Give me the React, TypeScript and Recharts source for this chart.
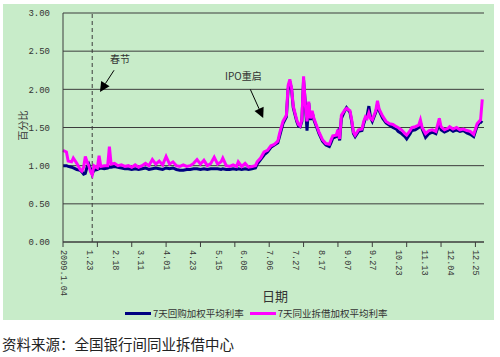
import { CartesianGrid, Line, LineChart, ReferenceLine, XAxis, YAxis } from "recharts";

// trading-day index (0 = 2009.1.04)
const DAY = [
  0, 2, 3, 5, 6, 8, 10, 11, 12, 13, 14, 15, 16, 17, 18, 20, 21, 22, 24, 26, 27, 28, 30, 32, 34, 36, 38, 40,
  42, 44, 46, 48, 50, 52, 54, 56, 58, 60, 62, 64, 66, 68, 70, 72, 74, 76, 78, 80, 82, 84, 86, 88, 90, 92,
  93, 95, 97, 99, 101, 102, 104, 106, 108, 110, 112, 113, 115, 117, 119, 121, 123, 125, 126, 128, 130, 131,
  132, 133, 134, 136, 137, 138, 139, 140, 141, 142, 143, 144, 145, 146, 147, 148, 149, 151, 153, 155, 156,
  157, 159, 160, 161, 162, 164, 165, 167, 168, 169, 170, 172, 174, 175, 176, 177, 178, 179, 180, 182, 183,
  184, 186, 188, 190, 192, 194, 195, 197, 199, 200, 202, 203, 205, 207, 208, 209, 211, 213, 215, 217, 219,
  220, 222, 224, 225, 227, 229, 231, 233, 235, 237, 239, 241, 243, 244,
];

// 7天回购加权平均利率
const REPO = [
  1.0, 1.0, 0.99, 0.98, 0.97, 0.95, 0.94, 0.92, 0.89, 0.9, 0.98, 1.02, 0.96, 0.89, 0.94, 0.95, 0.96, 0.97,
  0.96, 0.97, 0.98, 0.98, 0.99, 0.98, 0.97, 0.96, 0.96, 0.95, 0.96, 0.95, 0.96, 0.97, 0.95, 0.96, 0.97,
  0.96, 0.95, 0.97, 0.96, 0.97, 0.95, 0.94, 0.94, 0.95, 0.95, 0.96, 0.96, 0.95, 0.96, 0.95, 0.96, 0.96,
  0.96, 0.95, 0.96, 0.95, 0.95, 0.96, 0.95, 0.96, 0.95, 0.96, 0.95, 0.96, 0.97, 1.02, 1.08, 1.14, 1.18,
  1.24, 1.27, 1.3, 1.38, 1.55, 1.64, 2.0, 2.1, 2.0, 1.76, 1.58, 1.52, 1.51, 1.58, 2.12, 1.82, 1.46, 1.82,
  1.6, 1.7, 1.6, 1.54, 1.48, 1.42, 1.32, 1.27, 1.25, 1.3, 1.36, 1.38, 1.44, 1.33, 1.62, 1.72, 1.76, 1.7,
  1.58, 1.42, 1.38, 1.45, 1.46, 1.55, 1.62, 1.66, 1.78, 1.63, 1.58, 1.7, 1.8, 1.72, 1.62, 1.56, 1.53, 1.5,
  1.48, 1.45, 1.42, 1.38, 1.35, 1.42, 1.46, 1.47, 1.5, 1.56, 1.48, 1.37, 1.42, 1.44, 1.42, 1.56, 1.47,
  1.44, 1.46, 1.48, 1.45, 1.47, 1.45, 1.46, 1.43, 1.41, 1.38, 1.52, 1.58, 1.56,
];

// 7天同业拆借加权平均利率
const IBOR = [
  1.2, 1.18, 1.06, 1.05, 1.1, 1.03, 0.95, 0.93, 0.98, 1.12, 1.05, 1.0, 0.92, 0.88, 1.0, 0.97, 1.13, 0.99,
  1.0, 1.0, 1.25, 1.02, 1.03, 1.0, 1.01, 0.99, 1.0, 0.98, 1.01, 0.98, 1.0, 1.03, 1.0, 1.08, 1.02, 1.06,
  1.01, 1.12, 1.02, 1.05, 1.0, 0.99, 1.01, 0.99, 1.0, 1.03, 1.08, 1.02, 1.07, 1.0, 1.03, 1.11, 1.02, 1.05,
  1.1, 1.0, 0.99, 1.01, 0.99, 1.05, 0.99, 1.03, 0.98, 0.99, 1.0, 1.05, 1.1, 1.18, 1.2, 1.26, 1.28, 1.32,
  1.42, 1.58, 1.66, 2.05, 2.13, 2.02, 1.78, 1.6, 1.54, 1.52, 1.6, 2.17, 1.8, 1.58, 1.84, 1.62, 1.72, 1.62,
  1.56, 1.5, 1.44, 1.34, 1.29, 1.28, 1.34, 1.39, 1.4, 1.47, 1.35, 1.66, 1.73, 1.75, 1.72, 1.6, 1.44, 1.4,
  1.47, 1.48, 1.58, 1.64, 1.62, 1.69, 1.62, 1.6, 1.72, 1.85, 1.74, 1.65, 1.58, 1.55, 1.54, 1.51, 1.5, 1.47,
  1.42, 1.4, 1.46, 1.5, 1.51, 1.53, 1.6, 1.5, 1.42, 1.46, 1.47, 1.45, 1.62, 1.51, 1.47, 1.49, 1.51, 1.48,
  1.5, 1.47, 1.48, 1.46, 1.45, 1.41, 1.55, 1.6, 1.87,
];

const DATE_LABELS = [
  "2009.1.04", "1.23", "2.18", "3.11", "4.01", "4.23", "5.15", "6.08", "7.06",
  "7.27", "8.17", "9.07", "9.27", "10.23", "11.13", "12.04", "12.25",
];
const Y_TICKS = [0, 0.5, 1, 1.5, 2, 2.5, 3];

const SERIES = [
  { key: "repo", name: "7天回购加权平均利率", color: "#000080" },
  { key: "ibor", name: "7天同业拆借加权平均利率", color: "#ff00ff" },
];

const data = DAY.map((d, i) => ({ day: d, repo: REPO[i], ibor: IBOR[i] }));

const LABEL_EVERY = 15; // one date label every 15 trading days
const MARK_EVERY = 20; // tick marks every 20 trading days
const xTicks = Array.from({ length: 49 }, (_, i) => i * 5);

const GRID = "#3c3c3c";
const TXT = "#333";
const NUM_FONT = "'Liberation Mono', monospace";
const CJK = "'Noto Sans CJK SC', sans-serif";

function XTick(props: any) {
  const { x, y, payload } = props;
  const v = payload.value as number;
  return (
    <g>
      {v % MARK_EVERY === 0 && <line x1={x} y1={y} x2={x} y2={y + 5} stroke={GRID} />}
      {v % LABEL_EVERY === 0 && (
        <text
          x={x}
          y={y + 8}
          transform={`rotate(90 ${x} ${y + 8})`}
          dominantBaseline="central"
          fontSize={8.5}
          fontFamily={NUM_FONT}
          fill={TXT}
        >
          {DATE_LABELS[v / LABEL_EVERY]}
        </text>
      )}
    </g>
  );
}

function arrow(label: string, dx: number, dy: number) {
  return (p: any) => {
    const { x1, y1, x2, y2 } = p;
    const a = Math.atan2(y2 - y1, x2 - x1);
    const L = 10;
    const W = 5;
    const bx = x2 - L * Math.cos(a);
    const by = y2 - L * Math.sin(a);
    const px = -Math.sin(a) * W;
    const py = Math.cos(a) * W;
    return (
      <g>
        <line x1={x1} y1={y1} x2={bx} y2={by} stroke="#000" strokeWidth={1} />
        <polygon points={`${x2},${y2} ${bx + px},${by + py} ${bx - px},${by - py}`} fill="#000" />
        <text x={x1 + dx} y={y1 + dy} textAnchor="middle" fontSize={10} fontFamily={CJK} fill={TXT}>
          {label}
        </text>
      </g>
    );
  };
}

export default function App() {
  return (
    <div style={{ position: "absolute", left: 0, top: 0, width: 500, height: 357, background: "#fff" }}>
      <div style={{ position: "absolute", left: 3, top: 4, width: 491, height: 316, background: "#c8ecc9" }} />
      <div style={{ position: "absolute", left: 0, top: 0 }}>
        <LineChart width={500} height={357} data={data} margin={{ top: 13, right: 16, left: 0, bottom: 65 }}>
          <CartesianGrid horizontal vertical={false} stroke={GRID} strokeWidth={1} />
          <XAxis
            dataKey="day"
            type="number"
            domain={[0, 245]}
            ticks={xTicks}
            interval={0}
            height={50}
            tickLine={false}
            tickSize={0}
            tickMargin={0}
            axisLine={{ stroke: GRID }}
            tick={<XTick />}
          />
          <YAxis
            domain={[0, 3]}
            ticks={Y_TICKS}
            width={63}
            tickLine={false}
            tickSize={0}
            tickMargin={13}
            axisLine={{ stroke: GRID }}
            tickFormatter={(v: number) => v.toFixed(2)}
            tick={{ fontSize: 9, fontFamily: NUM_FONT, fill: TXT }}
          />
          <ReferenceLine x={17} stroke={GRID} strokeDasharray="4 3" />
          <ReferenceLine
            segment={[{ x: 29.7, y: 2.25 }, { x: 21.5, y: 1.965 }]}
            shape={arrow("春节", 6, -7)}
          />
          <ReferenceLine
            segment={[{ x: 109, y: 2.0 }, { x: 116.5, y: 1.625 }]}
            shape={arrow("IPO重启", -7, -9)}
          />
          {SERIES.map((s) => (
            <Line
              key={s.key}
              type="linear"
              dataKey={s.key}
              name={s.name}
              stroke={s.color}
              strokeWidth={3}
              dot={false}
              isAnimationActive={false}
            />
          ))}
        </LineChart>
      </div>
      <div
        style={{
          position: "absolute", left: 8, top: 108, width: 28, height: 34,
          display: "flex", alignItems: "center", justifyContent: "center",
        }}
      >
        <div style={{ transform: "rotate(-90deg)", whiteSpace: "nowrap", fontSize: 10, fontFamily: CJK, color: TXT }}>
          百分比
        </div>
      </div>
      <div style={{ position: "absolute", left: 0, width: 550, top: 286, textAlign: "center", fontSize: 13, fontFamily: CJK, color: TXT }}>
        日期
      </div>
      <div style={{ position: "absolute", left: 125, top: 306, display: "flex", alignItems: "center", fontSize: 9.5, fontFamily: CJK, color: TXT }}>
        {SERIES.map((s) => (
          <div key={s.key} style={{ display: "flex", alignItems: "center", marginRight: 6 }}>
            <div style={{ width: 26, height: 3, background: s.color, marginRight: 2 }} />
            <span>{s.name}</span>
          </div>
        ))}
      </div>
      <div style={{ position: "absolute", left: 2, top: 333, fontSize: 14.5, fontFamily: CJK, color: "#222" }}>
        资料来源：全国银行间同业拆借中心
      </div>
    </div>
  );
}
